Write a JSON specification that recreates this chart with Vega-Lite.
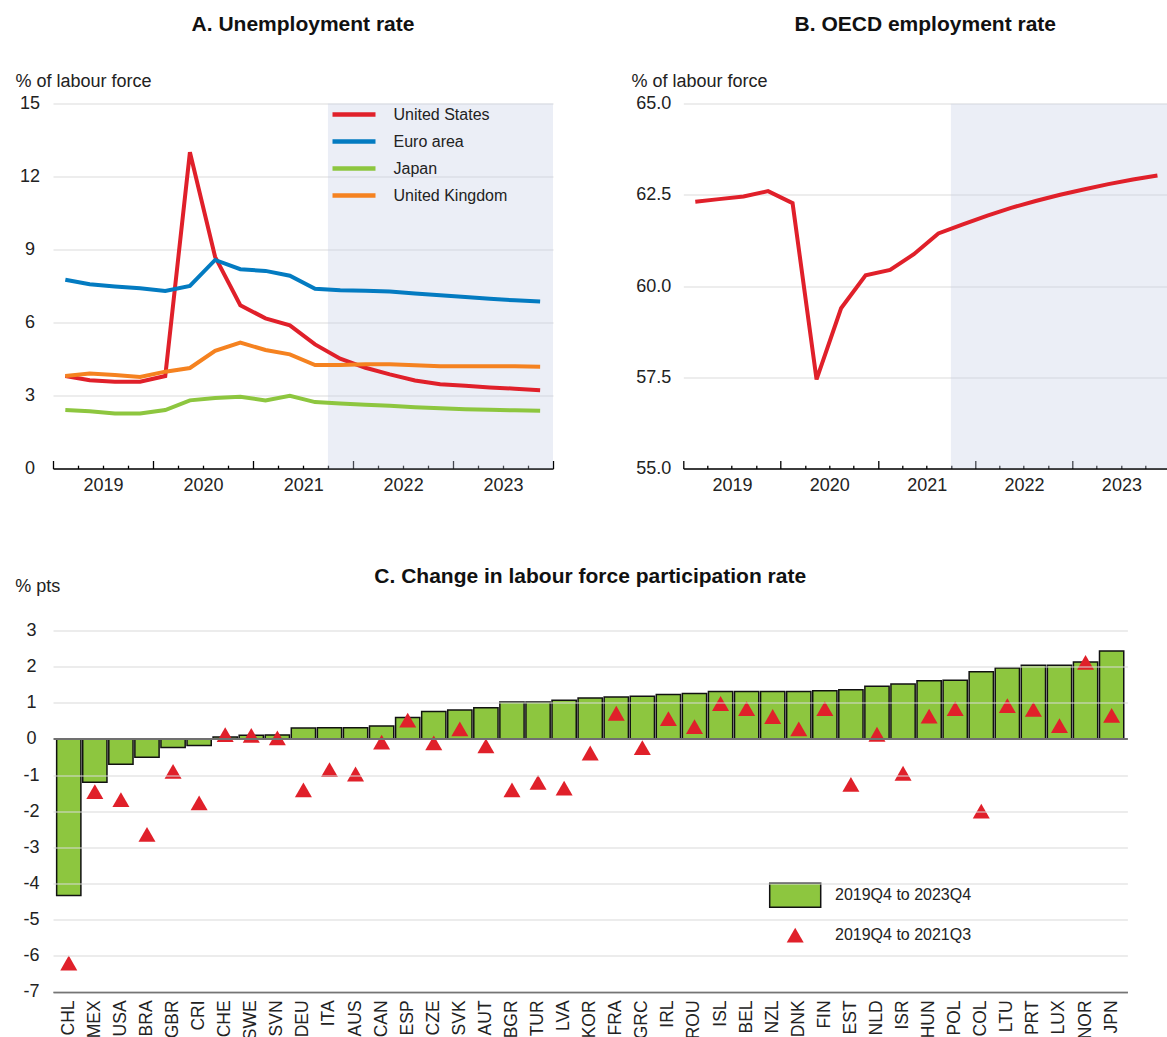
{
  "$schema": "https://vega.github.io/schema/vega-lite/v6.json",
  "padding": {"left": 14, "top": 13.5, "right": 0, "bottom": 0},
  "config": {
    "font": "Liberation Sans",
    "view": {"stroke": null},
    "axis": {"labelColor": "#222", "titleColor": "#222", "labelFont": "Liberation Sans", "titleFont": "Liberation Sans"},
    "legend": {"labelColor": "#222", "labelFont": "Liberation Sans"},
    "title": {"fontSize": 21, "fontWeight": "bold", "color": "#111", "frame": "group", "anchor": "middle", "font": "Liberation Sans"}
  },
  "datasets": {
    "proj": [{"start": "2021-10-01T00:00", "end": "2024-01-01T00:00"}],
    "unemp": [
      {"date": "2019-02-15T00:00", "series": "United States", "value": 3.8},
      {"date": "2019-05-15T00:00", "series": "United States", "value": 3.63},
      {"date": "2019-08-15T00:00", "series": "United States", "value": 3.57},
      {"date": "2019-11-15T00:00", "series": "United States", "value": 3.57},
      {"date": "2020-02-15T00:00", "series": "United States", "value": 3.8},
      {"date": "2020-05-15T00:00", "series": "United States", "value": 13.0},
      {"date": "2020-08-15T00:00", "series": "United States", "value": 8.7},
      {"date": "2020-11-15T00:00", "series": "United States", "value": 6.71},
      {"date": "2021-02-15T00:00", "series": "United States", "value": 6.17},
      {"date": "2021-05-15T00:00", "series": "United States", "value": 5.88},
      {"date": "2021-08-15T00:00", "series": "United States", "value": 5.1},
      {"date": "2021-11-15T00:00", "series": "United States", "value": 4.51},
      {"date": "2022-02-15T00:00", "series": "United States", "value": 4.14},
      {"date": "2022-05-15T00:00", "series": "United States", "value": 3.87},
      {"date": "2022-08-15T00:00", "series": "United States", "value": 3.62},
      {"date": "2022-11-15T00:00", "series": "United States", "value": 3.46},
      {"date": "2023-02-15T00:00", "series": "United States", "value": 3.4},
      {"date": "2023-05-15T00:00", "series": "United States", "value": 3.33},
      {"date": "2023-08-15T00:00", "series": "United States", "value": 3.28},
      {"date": "2023-11-15T00:00", "series": "United States", "value": 3.22},
      {"date": "2019-02-15T00:00", "series": "Euro area", "value": 7.76},
      {"date": "2019-05-15T00:00", "series": "Euro area", "value": 7.57},
      {"date": "2019-08-15T00:00", "series": "Euro area", "value": 7.48},
      {"date": "2019-11-15T00:00", "series": "Euro area", "value": 7.41},
      {"date": "2020-02-15T00:00", "series": "Euro area", "value": 7.3},
      {"date": "2020-05-15T00:00", "series": "Euro area", "value": 7.5},
      {"date": "2020-08-15T00:00", "series": "Euro area", "value": 8.57},
      {"date": "2020-11-15T00:00", "series": "Euro area", "value": 8.19},
      {"date": "2021-02-15T00:00", "series": "Euro area", "value": 8.12},
      {"date": "2021-05-15T00:00", "series": "Euro area", "value": 7.92},
      {"date": "2021-08-15T00:00", "series": "Euro area", "value": 7.39},
      {"date": "2021-11-15T00:00", "series": "Euro area", "value": 7.33},
      {"date": "2022-02-15T00:00", "series": "Euro area", "value": 7.3},
      {"date": "2022-05-15T00:00", "series": "Euro area", "value": 7.27},
      {"date": "2022-08-15T00:00", "series": "Euro area", "value": 7.19},
      {"date": "2022-11-15T00:00", "series": "Euro area", "value": 7.12},
      {"date": "2023-02-15T00:00", "series": "Euro area", "value": 7.05},
      {"date": "2023-05-15T00:00", "series": "Euro area", "value": 6.98},
      {"date": "2023-08-15T00:00", "series": "Euro area", "value": 6.91},
      {"date": "2023-11-15T00:00", "series": "Euro area", "value": 6.86},
      {"date": "2019-02-15T00:00", "series": "Japan", "value": 2.4},
      {"date": "2019-05-15T00:00", "series": "Japan", "value": 2.35},
      {"date": "2019-08-15T00:00", "series": "Japan", "value": 2.26},
      {"date": "2019-11-15T00:00", "series": "Japan", "value": 2.26},
      {"date": "2020-02-15T00:00", "series": "Japan", "value": 2.4},
      {"date": "2020-05-15T00:00", "series": "Japan", "value": 2.8},
      {"date": "2020-08-15T00:00", "series": "Japan", "value": 2.9},
      {"date": "2020-11-15T00:00", "series": "Japan", "value": 2.95},
      {"date": "2021-02-15T00:00", "series": "Japan", "value": 2.8},
      {"date": "2021-05-15T00:00", "series": "Japan", "value": 2.99},
      {"date": "2021-08-15T00:00", "series": "Japan", "value": 2.73},
      {"date": "2021-11-15T00:00", "series": "Japan", "value": 2.67},
      {"date": "2022-02-15T00:00", "series": "Japan", "value": 2.62},
      {"date": "2022-05-15T00:00", "series": "Japan", "value": 2.58},
      {"date": "2022-08-15T00:00", "series": "Japan", "value": 2.52},
      {"date": "2022-11-15T00:00", "series": "Japan", "value": 2.48},
      {"date": "2023-02-15T00:00", "series": "Japan", "value": 2.44},
      {"date": "2023-05-15T00:00", "series": "Japan", "value": 2.41},
      {"date": "2023-08-15T00:00", "series": "Japan", "value": 2.39},
      {"date": "2023-11-15T00:00", "series": "Japan", "value": 2.37},
      {"date": "2019-02-15T00:00", "series": "United Kingdom", "value": 3.8},
      {"date": "2019-05-15T00:00", "series": "United Kingdom", "value": 3.9},
      {"date": "2019-08-15T00:00", "series": "United Kingdom", "value": 3.84},
      {"date": "2019-11-15T00:00", "series": "United Kingdom", "value": 3.76},
      {"date": "2020-02-15T00:00", "series": "United Kingdom", "value": 3.98},
      {"date": "2020-05-15T00:00", "series": "United Kingdom", "value": 4.13},
      {"date": "2020-08-15T00:00", "series": "United Kingdom", "value": 4.84},
      {"date": "2020-11-15T00:00", "series": "United Kingdom", "value": 5.17},
      {"date": "2021-02-15T00:00", "series": "United Kingdom", "value": 4.87},
      {"date": "2021-05-15T00:00", "series": "United Kingdom", "value": 4.69},
      {"date": "2021-08-15T00:00", "series": "United Kingdom", "value": 4.25},
      {"date": "2021-11-15T00:00", "series": "United Kingdom", "value": 4.25},
      {"date": "2022-02-15T00:00", "series": "United Kingdom", "value": 4.28},
      {"date": "2022-05-15T00:00", "series": "United Kingdom", "value": 4.28},
      {"date": "2022-08-15T00:00", "series": "United Kingdom", "value": 4.24},
      {"date": "2022-11-15T00:00", "series": "United Kingdom", "value": 4.2},
      {"date": "2023-02-15T00:00", "series": "United Kingdom", "value": 4.2},
      {"date": "2023-05-15T00:00", "series": "United Kingdom", "value": 4.2},
      {"date": "2023-08-15T00:00", "series": "United Kingdom", "value": 4.2},
      {"date": "2023-11-15T00:00", "series": "United Kingdom", "value": 4.18}
    ],
    "emp": [
      {"date": "2019-02-15T00:00", "value": 62.31},
      {"date": "2019-05-15T00:00", "value": 62.38},
      {"date": "2019-08-15T00:00", "value": 62.45},
      {"date": "2019-11-15T00:00", "value": 62.6},
      {"date": "2020-02-15T00:00", "value": 62.27},
      {"date": "2020-05-15T00:00", "value": 57.44},
      {"date": "2020-08-15T00:00", "value": 59.39},
      {"date": "2020-11-15T00:00", "value": 60.29},
      {"date": "2021-02-15T00:00", "value": 60.44},
      {"date": "2021-05-15T00:00", "value": 60.87},
      {"date": "2021-08-15T00:00", "value": 61.44},
      {"date": "2021-11-15T00:00", "value": 61.69},
      {"date": "2022-02-15T00:00", "value": 61.93},
      {"date": "2022-05-15T00:00", "value": 62.14},
      {"date": "2022-08-15T00:00", "value": 62.33},
      {"date": "2022-11-15T00:00", "value": 62.5},
      {"date": "2023-02-15T00:00", "value": 62.65},
      {"date": "2023-05-15T00:00", "value": 62.79},
      {"date": "2023-08-15T00:00", "value": 62.92},
      {"date": "2023-11-15T00:00", "value": 63.03}
    ],
    "lfp": [
      {"country": "CHL", "series": "2019Q4 to 2023Q4", "value": -4.33},
      {"country": "MEX", "series": "2019Q4 to 2023Q4", "value": -1.2},
      {"country": "USA", "series": "2019Q4 to 2023Q4", "value": -0.7},
      {"country": "BRA", "series": "2019Q4 to 2023Q4", "value": -0.51},
      {"country": "GBR", "series": "2019Q4 to 2023Q4", "value": -0.24},
      {"country": "CRI", "series": "2019Q4 to 2023Q4", "value": -0.18},
      {"country": "CHE", "series": "2019Q4 to 2023Q4", "value": 0.05},
      {"country": "SWE", "series": "2019Q4 to 2023Q4", "value": 0.1},
      {"country": "SVN", "series": "2019Q4 to 2023Q4", "value": 0.11},
      {"country": "DEU", "series": "2019Q4 to 2023Q4", "value": 0.3},
      {"country": "ITA", "series": "2019Q4 to 2023Q4", "value": 0.31},
      {"country": "AUS", "series": "2019Q4 to 2023Q4", "value": 0.31},
      {"country": "CAN", "series": "2019Q4 to 2023Q4", "value": 0.36},
      {"country": "ESP", "series": "2019Q4 to 2023Q4", "value": 0.59},
      {"country": "CZE", "series": "2019Q4 to 2023Q4", "value": 0.76},
      {"country": "SVK", "series": "2019Q4 to 2023Q4", "value": 0.8},
      {"country": "AUT", "series": "2019Q4 to 2023Q4", "value": 0.86},
      {"country": "BGR", "series": "2019Q4 to 2023Q4", "value": 1.02},
      {"country": "TUR", "series": "2019Q4 to 2023Q4", "value": 1.02},
      {"country": "LVA", "series": "2019Q4 to 2023Q4", "value": 1.07},
      {"country": "KOR", "series": "2019Q4 to 2023Q4", "value": 1.13},
      {"country": "FRA", "series": "2019Q4 to 2023Q4", "value": 1.16},
      {"country": "GRC", "series": "2019Q4 to 2023Q4", "value": 1.18},
      {"country": "IRL", "series": "2019Q4 to 2023Q4", "value": 1.23},
      {"country": "ROU", "series": "2019Q4 to 2023Q4", "value": 1.26},
      {"country": "ISL", "series": "2019Q4 to 2023Q4", "value": 1.31},
      {"country": "BEL", "series": "2019Q4 to 2023Q4", "value": 1.31},
      {"country": "NZL", "series": "2019Q4 to 2023Q4", "value": 1.31},
      {"country": "DNK", "series": "2019Q4 to 2023Q4", "value": 1.31},
      {"country": "FIN", "series": "2019Q4 to 2023Q4", "value": 1.33},
      {"country": "EST", "series": "2019Q4 to 2023Q4", "value": 1.36},
      {"country": "NLD", "series": "2019Q4 to 2023Q4", "value": 1.46},
      {"country": "ISR", "series": "2019Q4 to 2023Q4", "value": 1.52},
      {"country": "HUN", "series": "2019Q4 to 2023Q4", "value": 1.61},
      {"country": "POL", "series": "2019Q4 to 2023Q4", "value": 1.62},
      {"country": "COL", "series": "2019Q4 to 2023Q4", "value": 1.86},
      {"country": "LTU", "series": "2019Q4 to 2023Q4", "value": 1.96},
      {"country": "PRT", "series": "2019Q4 to 2023Q4", "value": 2.04},
      {"country": "LUX", "series": "2019Q4 to 2023Q4", "value": 2.04},
      {"country": "NOR", "series": "2019Q4 to 2023Q4", "value": 2.13},
      {"country": "JPN", "series": "2019Q4 to 2023Q4", "value": 2.43},
      {"country": "CHL", "series": "2019Q4 to 2021Q3", "value": -6.2},
      {"country": "MEX", "series": "2019Q4 to 2021Q3", "value": -1.46},
      {"country": "USA", "series": "2019Q4 to 2021Q3", "value": -1.68},
      {"country": "BRA", "series": "2019Q4 to 2021Q3", "value": -2.64},
      {"country": "GBR", "series": "2019Q4 to 2021Q3", "value": -0.9},
      {"country": "CRI", "series": "2019Q4 to 2021Q3", "value": -1.77},
      {"country": "CHE", "series": "2019Q4 to 2021Q3", "value": 0.12},
      {"country": "SWE", "series": "2019Q4 to 2021Q3", "value": 0.1},
      {"country": "SVN", "series": "2019Q4 to 2021Q3", "value": 0.03},
      {"country": "DEU", "series": "2019Q4 to 2021Q3", "value": -1.41},
      {"country": "ITA", "series": "2019Q4 to 2021Q3", "value": -0.85},
      {"country": "AUS", "series": "2019Q4 to 2021Q3", "value": -0.97},
      {"country": "CAN", "series": "2019Q4 to 2021Q3", "value": -0.09},
      {"country": "ESP", "series": "2019Q4 to 2021Q3", "value": 0.52},
      {"country": "CZE", "series": "2019Q4 to 2021Q3", "value": -0.11},
      {"country": "SVK", "series": "2019Q4 to 2021Q3", "value": 0.28},
      {"country": "AUT", "series": "2019Q4 to 2021Q3", "value": -0.19},
      {"country": "BGR", "series": "2019Q4 to 2021Q3", "value": -1.41},
      {"country": "TUR", "series": "2019Q4 to 2021Q3", "value": -1.2},
      {"country": "LVA", "series": "2019Q4 to 2021Q3", "value": -1.36},
      {"country": "KOR", "series": "2019Q4 to 2021Q3", "value": -0.39},
      {"country": "FRA", "series": "2019Q4 to 2021Q3", "value": 0.71},
      {"country": "GRC", "series": "2019Q4 to 2021Q3", "value": -0.24},
      {"country": "IRL", "series": "2019Q4 to 2021Q3", "value": 0.56},
      {"country": "ROU", "series": "2019Q4 to 2021Q3", "value": 0.34},
      {"country": "ISL", "series": "2019Q4 to 2021Q3", "value": 0.98},
      {"country": "BEL", "series": "2019Q4 to 2021Q3", "value": 0.84},
      {"country": "NZL", "series": "2019Q4 to 2021Q3", "value": 0.62},
      {"country": "DNK", "series": "2019Q4 to 2021Q3", "value": 0.28},
      {"country": "FIN", "series": "2019Q4 to 2021Q3", "value": 0.84},
      {"country": "EST", "series": "2019Q4 to 2021Q3", "value": -1.26},
      {"country": "NLD", "series": "2019Q4 to 2021Q3", "value": 0.13},
      {"country": "ISR", "series": "2019Q4 to 2021Q3", "value": -0.95},
      {"country": "HUN", "series": "2019Q4 to 2021Q3", "value": 0.63},
      {"country": "POL", "series": "2019Q4 to 2021Q3", "value": 0.84},
      {"country": "COL", "series": "2019Q4 to 2021Q3", "value": -2.0},
      {"country": "LTU", "series": "2019Q4 to 2021Q3", "value": 0.92},
      {"country": "PRT", "series": "2019Q4 to 2021Q3", "value": 0.82},
      {"country": "LUX", "series": "2019Q4 to 2021Q3", "value": 0.37},
      {"country": "NOR", "series": "2019Q4 to 2021Q3", "value": 2.12},
      {"country": "JPN", "series": "2019Q4 to 2021Q3", "value": 0.65}
    ]
  },
  "vconcat": [
    {
      "hconcat": [
        {
          "width": 500,
          "height": 365,
          "title": {"text": "A. Unemployment rate", "offset": 37},
          "layer": [
            {
              "data": {"name": "proj"},
              "mark": {"type": "rect", "color": "#C5CDE6", "opacity": 0.35},
              "encoding": {
                "x": {"field": "start", "type": "temporal",
                  "scale": {"domain": [{"year": 2019, "month": 1, "date": 1}, {"year": 2024, "month": 1, "date": 1}]},
                  "axis": {"orient": "bottom", "values": [{"year": 2019, "month": 1, "date": 1}, {"year": 2020, "month": 1, "date": 1}, {"year": 2021, "month": 1, "date": 1}, {"year": 2022, "month": 1, "date": 1}, {"year": 2023, "month": 1, "date": 1}, {"year": 2024, "month": 1, "date": 1}],
                    "tickSize": -8, "tickColor": "#000", "tickWidth": 1.3, "domain": true, "domainColor": "#000", "domainWidth": 1.5, "grid": false,
                    "labelExpr": "year(datum.value) < 2024 ? timeFormat(datum.value, '%Y') : ''", "labelOffset": 50, "labelPadding": 16.4, "labelFontSize": 18, "labelAlign": "center", "labelFlush": false, "labelOverlap": false, "title": null}},
                "x2": {"field": "end"}
              }
            },
            {
              "data": {"name": "unemp"},
              "mark": {"type": "line", "strokeWidth": 4},
              "encoding": {
                "x": {"field": "date", "type": "temporal",
                  "scale": {"domain": [{"year": 2019, "month": 1, "date": 1}, {"year": 2024, "month": 1, "date": 1}]},
                  "axis": {"orient": "bottom", "values": [{"year": 2019, "month": 4, "date": 1}, {"year": 2019, "month": 7, "date": 1}, {"year": 2019, "month": 10, "date": 1}, {"year": 2020, "month": 4, "date": 1}, {"year": 2020, "month": 7, "date": 1}, {"year": 2020, "month": 10, "date": 1}, {"year": 2021, "month": 4, "date": 1}, {"year": 2021, "month": 7, "date": 1}, {"year": 2021, "month": 10, "date": 1}, {"year": 2022, "month": 4, "date": 1}, {"year": 2022, "month": 7, "date": 1}, {"year": 2022, "month": 10, "date": 1}, {"year": 2023, "month": 4, "date": 1}, {"year": 2023, "month": 7, "date": 1}, {"year": 2023, "month": 10, "date": 1}],
                    "tickSize": -3.3, "tickColor": "#000", "tickWidth": 1.3, "domain": false, "grid": false, "labels": false, "title": null}},
                "y": {"field": "value", "type": "quantitative",
                  "scale": {"domain": [0, 15]},
                  "axis": {"values": [0, 3, 6, 9, 12, 15], "grid": true, "gridColor": "#DCDCDC", "gridWidth": 1.2, "domain": false, "ticks": false, "tickSize": 0,
                    "labelFontSize": 18, "labelAlign": "center", "labelBaseline": "middle", "labelPadding": 23.4,
                    "title": "% of labour force", "titleAngle": 0, "titleAlign": "left", "titleBaseline": "middle", "titleX": -38, "titleY": -22.5, "titleFontSize": 18, "titleFontWeight": "normal"}},
                "color": {"field": "series", "type": "nominal",
                  "scale": {"domain": ["United States", "Euro area", "Japan", "United Kingdom"], "range": ["#E0202A", "#037BC1", "#8DC63F", "#F58220"]},
                  "legend": {"orient": "none", "legendX": 283.5, "legendY": -6.5, "title": null, "symbolType": "M-1.433,0L1.433,0", "symbolSize": 900, "symbolStrokeWidth": 4.5, "labelFontSize": 16, "labelOffset": 22, "rowPadding": -16, "padding": 0}}
              }
            }
          ],
          "resolve": {"axis": {"x": "independent"}}
        },
        {
          "width": 484,
          "height": 365,
          "title": {"text": "B. OECD employment rate", "offset": 37},
          "layer": [
            {
              "data": {"name": "proj"},
              "mark": {"type": "rect", "color": "#C5CDE6", "opacity": 0.35, "clip": true},
              "encoding": {
                "x": {"field": "start", "type": "temporal",
                  "scale": {"domain": [{"year": 2019, "month": 1, "date": 1}, {"year": 2023, "month": 12, "date": 22}]},
                  "axis": {"orient": "bottom", "values": [{"year": 2019, "month": 1, "date": 1}, {"year": 2020, "month": 1, "date": 1}, {"year": 2021, "month": 1, "date": 1}, {"year": 2022, "month": 1, "date": 1}, {"year": 2023, "month": 1, "date": 1}],
                    "tickSize": -8, "tickColor": "#000", "tickWidth": 1.3, "domain": true, "domainColor": "#000", "domainWidth": 1.5, "grid": false,
                    "format": "%Y", "labelOffset": 48.7, "labelPadding": 16.4, "labelFontSize": 18, "labelAlign": "center", "labelFlush": false, "labelOverlap": false, "title": null}},
                "x2": {"field": "end"}
              }
            },
            {
              "data": {"name": "emp"},
              "mark": {"type": "line", "strokeWidth": 4, "color": "#E0202A"},
              "encoding": {
                "x": {"field": "date", "type": "temporal",
                  "scale": {"domain": [{"year": 2019, "month": 1, "date": 1}, {"year": 2023, "month": 12, "date": 22}]},
                  "axis": {"orient": "bottom", "values": [{"year": 2019, "month": 4, "date": 1}, {"year": 2019, "month": 7, "date": 1}, {"year": 2019, "month": 10, "date": 1}, {"year": 2020, "month": 4, "date": 1}, {"year": 2020, "month": 7, "date": 1}, {"year": 2020, "month": 10, "date": 1}, {"year": 2021, "month": 4, "date": 1}, {"year": 2021, "month": 7, "date": 1}, {"year": 2021, "month": 10, "date": 1}, {"year": 2022, "month": 4, "date": 1}, {"year": 2022, "month": 7, "date": 1}, {"year": 2022, "month": 10, "date": 1}, {"year": 2023, "month": 4, "date": 1}, {"year": 2023, "month": 7, "date": 1}, {"year": 2023, "month": 10, "date": 1}],
                    "tickSize": -3.3, "tickColor": "#000", "tickWidth": 1.3, "domain": false, "grid": false, "labels": false, "title": null}},
                "y": {"field": "value", "type": "quantitative",
                  "scale": {"domain": [55, 65]},
                  "axis": {"values": [55, 57.5, 60, 62.5, 65], "format": ".1f", "grid": true, "gridColor": "#DCDCDC", "gridWidth": 1.2, "domain": false, "ticks": false, "tickSize": 0,
                    "labelFontSize": 18, "labelAlign": "center", "labelBaseline": "middle", "labelPadding": 30,
                    "title": "% of labour force", "titleAngle": 0, "titleAlign": "left", "titleBaseline": "middle", "titleX": -52.3, "titleY": -22.5, "titleFontSize": 18, "titleFontWeight": "normal"}}
              }
            }
          ],
          "resolve": {"axis": {"x": "independent"}}
        }
      ],
      "spacing": 130.3,
      "bounds": "flush"
    },
    {
      "width": 1074.4,
      "height": 361.4,
      "title": {"text": "C. Change in labour force participation rate", "offset": -9.7},
      "data": {"name": "lfp"},
      "encoding": {
        "x": {"field": "country", "type": "nominal", "sort": null,
          "scale": {"paddingInner": 0.07, "paddingOuter": 0.14},
          "axis": {"labelAngle": -90, "labelAlign": "right", "labelBaseline": "middle", "labelFontSize": 17.5, "labelPadding": 8, "ticks": false, "tickSize": 0, "domain": true, "domainColor": "#111", "domainWidth": 1.5, "title": null}},
        "y": {"field": "value", "type": "quantitative",
          "scale": {"domain": [-7, 3]},
          "axis": {"values": [-7, -6, -5, -4, -3, -2, -1, 0, 1, 2, 3], "labelExpr": "'' + datum.value", "labelOverlap": false, "grid": true,
            "gridColor": {"condition": {"test": "datum.value === 0", "value": "#707070"}, "value": "#D9D9D9"},
            "gridWidth": {"condition": {"test": "datum.value === 0", "value": 2}, "value": 1.2},
            "domain": false, "ticks": false, "tickSize": 0, "zindex": 1,
            "labelFontSize": 18, "labelAlign": "center", "labelBaseline": "middle", "labelPadding": 22,
            "title": "% pts", "titleAngle": 0, "titleAlign": "left", "titleBaseline": "middle", "titleX": -38.3, "titleY": -44.3, "titleFontSize": 18, "titleFontWeight": "normal"}}
      },
      "layer": [
        {
          "transform": [{"filter": "datum.series === '2019Q4 to 2023Q4'"}],
          "mark": {"type": "bar", "strokeWidth": 1.5},
          "encoding": {
            "color": {"field": "series", "type": "nominal",
              "scale": {"domain": ["2019Q4 to 2023Q4", "2019Q4 to 2021Q3"], "range": ["#8DC63F", "#E0202A"]},
              "legend": {"orient": "none", "legendX": 718.2, "legendY": 240.7, "title": null, "symbolSize": 2116, "symbolStrokeWidth": 1.5, "symbolOpacity": 1, "labelFontSize": 16, "labelOffset": 15.8, "rowPadding": -16, "padding": 0}},
            "stroke": {"field": "series", "type": "nominal",
              "scale": {"domain": ["2019Q4 to 2023Q4", "2019Q4 to 2021Q3"], "range": ["#111", "transparent"]},
              "legend": {"orient": "none", "legendX": 718.2, "legendY": 240.7, "title": null, "symbolSize": 2116, "symbolStrokeWidth": 1.5, "symbolOpacity": 1, "labelFontSize": 16, "labelOffset": 15.8, "rowPadding": -16, "padding": 0}}
          }
        },
        {
          "transform": [{"filter": "datum.series === '2019Q4 to 2021Q3'"}],
          "mark": {"type": "point", "filled": true, "opacity": 1, "size": 2116, "strokeWidth": 0},
          "encoding": {
            "color": {"field": "series", "type": "nominal",
              "scale": {"domain": ["2019Q4 to 2023Q4", "2019Q4 to 2021Q3"], "range": ["#8DC63F", "#E0202A"]}},
            "stroke": {"field": "series", "type": "nominal",
              "scale": {"domain": ["2019Q4 to 2023Q4", "2019Q4 to 2021Q3"], "range": ["#111", "transparent"]}},
            "shape": {"field": "series", "type": "nominal",
              "scale": {"domain": ["2019Q4 to 2023Q4", "2019Q4 to 2021Q3"], "range": ["M-1.109,-0.522L1.109,-0.522L1.109,0.522L-1.109,0.522Z", "M-0.37,0.322L0,-0.322L0.37,0.322Z"]},
              "legend": {"orient": "none", "legendX": 718.2, "legendY": 240.7, "title": null, "symbolSize": 2116, "symbolStrokeWidth": 1.5, "symbolOpacity": 1, "labelFontSize": 16, "labelOffset": 15.8, "rowPadding": -16, "padding": 0}}
          }
        }
      ]
    }
  ],
  "spacing": 527,
  "bounds": "flush",
  "resolve": {"scale": {"color": "independent", "shape": "independent", "stroke": "independent"}}
}
